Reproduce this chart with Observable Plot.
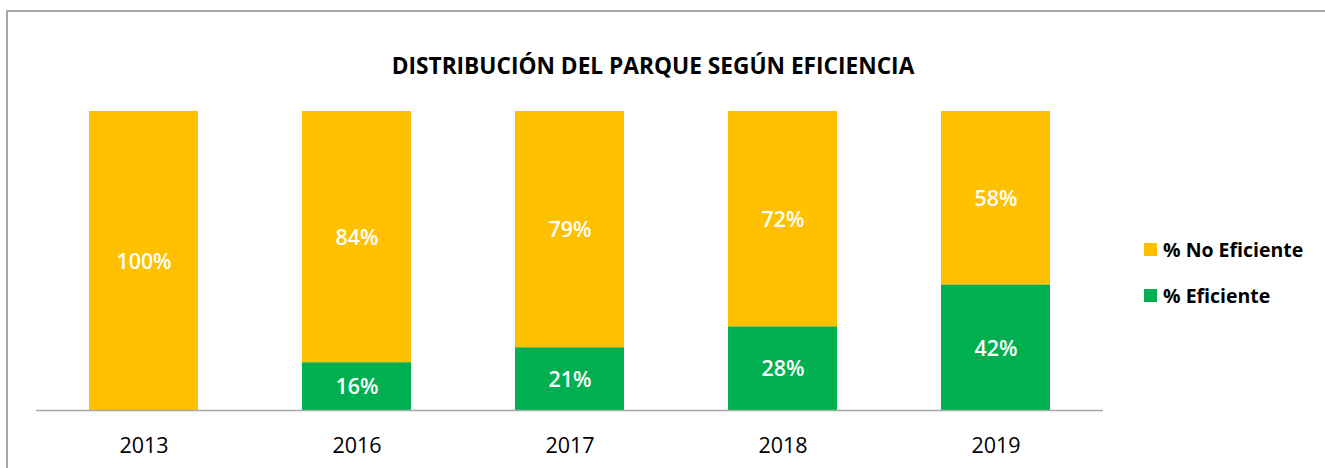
<!DOCTYPE html>
<html>
<head>
<meta charset="utf-8">
<script src="https://cdn.jsdelivr.net/npm/d3@7"></script>
<script src="https://cdn.jsdelivr.net/npm/@observablehq/plot@0.6"></script>
<style>
  body { margin: 0; background: #fff; font-family: "Open Sans", sans-serif; }
  #wrap { position: relative; width: 1325px; height: 468px; overflow: hidden; }
  #border { position: absolute; left: 6px; top: 10px; width: 1400px; height: 600px;
            border-left: 2px solid #a6a6a6; border-top: 2px solid #a6a6a6; box-sizing: border-box; }
  #title { position: absolute; left: 0; width: 1306px; top: 51px; text-align: center;
           font-weight: 700; font-size: 22.7px; line-height: 30px; color: #000; }
  #legend { position: absolute; left: 1144px; top: 226px; }
  .item { display: flex; align-items: center; height: 46px; font-weight: 700; font-size: 19.5px; color: #000; }
  .sw { width: 13px; height: 13px; margin-right: 6px; }
  svg { position: absolute; left: 0; top: 0; }
</style>
</head>
<body>
<div id="wrap">
  <div id="border"></div>
  <div id="title"></div>
  <div id="legend"></div>
</div>
<script>
const title = "DISTRIBUCIÓN DEL PARQUE SEGÚN EFICIENCIA";
const years = ["2013", "2016", "2017", "2018", "2019"];
const eficiente = [0, 16, 21, 28, 42];
const noEficiente = [100, 84, 79, 72, 58];
const seriesNames = ["% Eficiente", "% No Eficiente"];
const seriesColors = ["#00B050", "#FFC000"];

const data = [];
years.forEach((yr, i) => {
  data.push({year: yr, series: seriesNames[0], value: eficiente[i]});
  data.push({year: yr, series: seriesNames[1], value: noEficiente[i]});
});

const chart = Plot.plot({
  width: 1325,
  height: 468,
  marginLeft: 36,
  marginRight: 222,
  marginTop: 111,
  marginBottom: 58,
  style: { fontFamily: "Open Sans, sans-serif", background: "transparent", overflow: "visible" },
  x: { domain: years, paddingInner: 0.488, paddingOuter: 0.245, label: null },
  y: { domain: [0, 100], axis: null },
  color: { domain: seriesNames, range: seriesColors },
  marks: [
    Plot.barY(data, Plot.stackY({x: "year", y: "value", z: "series", fill: "series", order: seriesNames})),
    Plot.text(data, Plot.stackY({
      x: "year", y: "value", z: "series", order: seriesNames,
      text: d => d.value > 0 ? d.value + "%" : "",
      fill: "white", fontSize: 21.4, fontWeight: 600, dy: 1
    })),
    Plot.ruleY([0], {stroke: "#a6a6a6", strokeWidth: 1.5}),
    Plot.axisX({tickSize: 0, tickPadding: 27, fontSize: 21.5, fill: "#000", label: null})
  ]
});
document.getElementById("wrap").appendChild(chart);
document.getElementById("title").textContent = title;

const legend = document.getElementById("legend");
[1, 0].forEach(i => {
  const it = document.createElement("div");
  it.className = "item";
  const sw = document.createElement("div");
  sw.className = "sw";
  sw.style.background = seriesColors[i];
  const lab = document.createElement("span");
  lab.textContent = seriesNames[i];
  it.appendChild(sw); it.appendChild(lab);
  legend.appendChild(it);
});
</script>
</body>
</html>
